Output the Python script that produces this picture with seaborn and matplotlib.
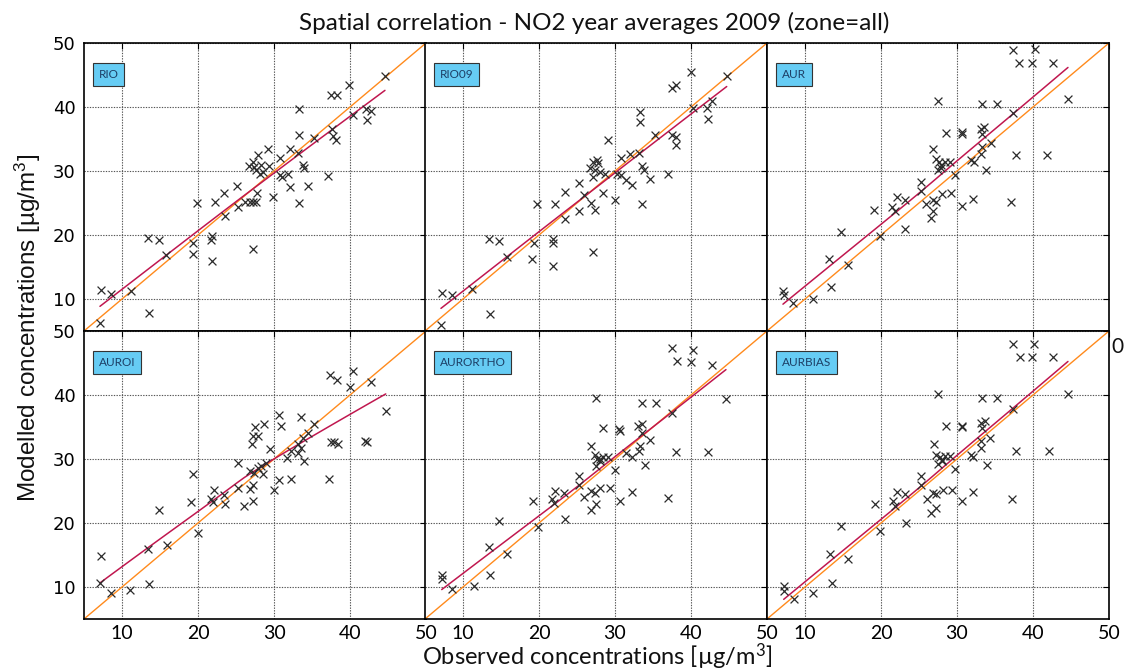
import numpy as np
import pandas as pd
import matplotlib
matplotlib.use("Agg")
import matplotlib.pyplot as plt
import seaborn as sns

# ---------------------------------------------------------------- data
models = ["RIO", "RIO09", "AUR", "AUROI", "AURORTHO", "AURBIAS"]
tick_values = [10, 20, 30, 40, 50]
axis_range = (5, 50)

rio_obs = [44.6, 39.9, 37.5, 38.3, 33.3, 40.4, 42.1, 42.7, 42.3, 33.3, 35.3, 37.6, 37.8, 38.2,
           32.1, 33.2, 29.2, 27.9, 30.8, 26.75, 27.2, 27.4, 27.6, 28.1, 28.5, 28.3, 29.4, 30.8,
           31.1, 31.8, 33.8, 33.9, 37.1, 32.1, 34.5, 29.9, 33.3, 25.1, 23.4, 22.3, 19.9, 25.2,
           26.2, 26.9, 27.2, 27.6, 27.8, 23.5, 19.3, 19.4, 21.7, 21.9, 21.9, 27.3, 13.4, 14.9,
           15.8, 7.3, 8.6, 11.2, 13.6, 7.1]
rio_mod = [44.9, 43.5, 41.8, 41.9, 39.7, 38.7, 39.7, 39.3, 38.0, 35.7, 35.2, 36.5, 35.5, 34.8,
           33.4, 32.8, 33.4, 32.5, 32.1, 30.8, 31.4, 30.7, 30.1, 29.6, 29.9, 30.9, 30.8, 29.4,
           29.1, 29.6, 30.9, 30.4, 29.2, 27.5, 27.7, 26.0, 25.0, 27.7, 26.5, 25.2, 25.0, 24.4,
           25.1, 25.2, 25.1, 25.1, 26.6, 22.9, 18.7, 17.0, 19.2, 19.8, 16.0, 17.8, 19.5, 19.2,
           16.9, 11.4, 10.8, 11.2, 7.8, 6.3]

rio09_obs = [44.7, 40.0, 37.5, 38.0, 40.2, 42.1, 42.8, 42.3, 33.3, 33.3, 35.3, 37.5, 38.0, 38.0,
             29.1, 30.8, 32.0, 33.2, 27.1, 27.6, 27.8, 27.4, 28.0, 28.7, 26.7, 27.1, 30.2, 30.8,
             31.5, 32.2, 33.6, 33.8, 34.6, 37.0, 33.6, 30.0, 25.3, 23.4, 25.9, 26.8, 27.4, 28.4,
             25.2, 19.7, 22.1, 23.4, 19.3, 19.1, 21.8, 21.9, 21.9, 27.1, 13.4, 14.8, 15.8, 7.3,
             8.6, 11.2, 13.5, 7.1]
rio09_mod = [44.8, 45.4, 43.0, 43.4, 39.9, 39.9, 40.9, 38.2, 39.2, 37.7, 35.6, 35.7, 35.3, 34.0,
             34.8, 32.0, 32.7, 32.8, 31.4, 31.7, 31.2, 30.1, 29.9, 29.6, 30.4, 29.1, 29.6, 29.4,
             28.6, 27.8, 30.8, 30.1, 28.8, 29.5, 24.8, 25.5, 28.1, 26.7, 26.2, 25.0, 23.9, 26.5,
             23.7, 24.8, 24.8, 22.5, 18.7, 16.2, 19.3, 18.7, 15.2, 17.3, 19.3, 19.0, 16.6, 10.9,
             10.7, 11.6, 7.6, 5.9]

aur_obs = [37.4, 40.2, 38.2, 39.9, 42.6, 44.6, 27.5, 33.3, 35.3, 37.4, 28.6, 30.6, 30.7, 33.2,
           33.6, 33.3, 34.5, 37.7, 41.8, 33.3, 33.2, 31.9, 32.3, 33.8, 37.1, 26.9, 27.3, 27.6,
           27.9, 28.4, 29.1, 27.5, 27.9, 29.8, 30.6, 32.1, 25.2, 25.2, 28.0, 29.2, 25.9, 26.8,
           27.3, 26.8, 26.6, 22.1, 23.1, 19.1, 21.5, 21.8, 23.2, 14.7, 19.9, 13.2, 15.6, 13.4,
           7.1, 7.2, 8.4, 11.0]
aur_mod = [48.9, 49.1, 46.9, 46.9, 46.9, 41.2, 40.9, 40.4, 40.4, 39.0, 36.0, 36.1, 35.8, 36.6,
           36.9, 35.8, 34.3, 32.5, 32.5, 33.8, 32.7, 31.7, 31.4, 30.2, 25.1, 33.4, 31.8, 31.4,
           30.9, 31.4, 31.4, 30.1, 30.4, 29.3, 24.5, 25.7, 28.3, 26.8, 26.4, 26.5, 24.9, 25.5,
           25.2, 23.7, 22.6, 25.9, 25.4, 23.9, 24.4, 23.7, 21.0, 20.5, 19.8, 16.2, 15.3, 11.9,
           11.2, 10.7, 9.3, 10.0]

auroi_obs = [37.4, 38.3, 40.4, 40.0, 42.7, 44.7, 30.7, 30.9, 33.5, 35.3, 27.5, 28.7, 27.2, 27.9,
             27.1, 37.5, 37.9, 38.4, 42.0, 42.3, 34.5, 33.8, 33.1, 33.6, 33.2, 33.9, 32.2, 31.7,
             29.5, 29.0, 28.3, 27.9, 27.4, 28.5, 26.8, 25.2, 30.0, 30.7, 32.2, 37.3, 25.2, 26.8,
             27.2, 27.3, 26.1, 19.3, 19.1, 21.7, 22.1, 22.0, 23.4, 23.5, 14.9, 20.0, 13.4, 15.9,
             7.3, 7.1, 8.6, 11.1, 13.6]
auroi_mod = [43.2, 42.3, 43.7, 41.2, 42.0, 37.5, 36.8, 35.2, 36.6, 35.4, 35.0, 35.4, 33.6, 33.6,
             32.3, 32.6, 32.6, 32.4, 32.8, 32.6, 34.1, 33.3, 32.3, 31.7, 31.0, 29.7, 31.2, 30.2,
             31.6, 29.4, 28.9, 28.6, 27.8, 27.6, 28.1, 29.3, 25.1, 26.7, 26.9, 26.9, 25.5, 25.3,
             25.9, 23.4, 22.7, 27.6, 23.3, 23.8, 25.2, 23.3, 24.4, 23.0, 22.0, 18.5, 16.0, 16.5,
             14.9, 10.7, 9.0, 9.5, 10.5]

aurortho_obs = [37.5, 40.2, 38.1, 40.0, 42.8, 44.6, 27.5, 33.5, 35.4, 37.5, 28.4, 30.5, 30.7, 33.0,
                33.6, 33.5, 34.6, 38.0, 42.3, 33.3, 33.2, 31.5, 32.2, 33.9, 37.0, 26.9, 27.4, 27.6,
                28.0, 28.4, 29.1, 27.5, 28.0, 30.0, 30.7, 32.3, 25.2, 25.3, 28.0, 29.3, 25.9, 26.8,
                27.4, 27.5, 26.9, 22.1, 23.3, 19.2, 21.7, 22.0, 23.4, 14.8, 19.9, 13.4, 15.8, 13.6,
                7.3, 7.2, 8.6, 11.4]
aurortho_mod = [47.3, 47.1, 45.3, 45.1, 44.7, 39.3, 39.5, 38.8, 38.8, 37.2, 34.9, 34.7, 34.3, 35.2,
                35.4, 34.1, 33.0, 31.1, 31.1, 32.0, 31.2, 31.0, 30.3, 29.0, 23.9, 32.0, 30.7, 30.0,
                30.0, 30.3, 30.3, 28.9, 29.7, 28.3, 23.4, 24.8, 27.3, 26.0, 25.5, 25.5, 24.1, 25.0,
                24.7, 23.0, 22.1, 25.0, 24.7, 23.4, 23.7, 23.2, 20.6, 20.3, 19.3, 16.2, 15.2, 11.8,
                11.8, 11.2, 9.7, 10.2]

aurbias_obs = [37.4, 40.1, 38.3, 39.9, 42.6, 44.6, 27.5, 33.3, 35.3, 37.4, 28.5, 30.6, 30.7, 33.1,
               33.7, 33.3, 34.4, 37.8, 42.1, 33.2, 33.1, 31.8, 32.1, 33.9, 37.2, 27.0, 27.3, 27.7,
               28.0, 28.4, 29.1, 27.5, 28.0, 29.8, 30.6, 32.1, 25.2, 25.2, 28.1, 29.4, 26.0, 26.9,
               27.3, 27.3, 26.6, 22.1, 23.1, 19.2, 21.6, 21.8, 23.3, 14.8, 19.9, 13.3, 15.7, 13.6,
               7.2, 7.2, 8.6, 11.1]
aurbias_mod = [48.0, 48.0, 46.0, 46.0, 46.0, 40.2, 40.2, 39.5, 39.5, 37.8, 35.1, 35.2, 35.0, 35.6,
               36.0, 34.9, 33.3, 31.2, 31.2, 32.8, 31.7, 30.7, 30.3, 29.0, 23.8, 32.3, 30.7, 30.3,
               29.9, 30.5, 30.5, 29.2, 29.7, 28.5, 23.5, 24.8, 27.3, 25.9, 25.2, 25.2, 23.7, 24.7,
               24.5, 22.4, 21.6, 24.8, 24.6, 22.9, 23.4, 22.6, 20.0, 19.5, 18.7, 15.2, 14.3, 10.7,
               10.2, 9.4, 8.1, 9.0]

observed = [rio_obs, rio09_obs, aur_obs, auroi_obs, aurortho_obs, aurbias_obs]
modelled = [rio_mod, rio09_mod, aur_mod, auroi_mod, aurortho_mod, aurbias_mod]

frames = [pd.DataFrame({"model": m, "obs": o, "mod": v})
          for m, o, v in zip(models, observed, modelled)]
data = pd.concat(frames, ignore_index=True)


def lowess(x, y, frac=1.0, iters=1):
    """Locally weighted linear regression (tricube kernel, robust passes)."""
    x = np.asarray(x, float)
    y = np.asarray(y, float)
    order = np.argsort(x)
    x, y = x[order], y[order]
    n = len(x)
    r = min(max(int(np.ceil(frac * n)), 3), n - 1)
    fit = np.zeros(n)
    robust = np.ones(n)
    for _ in range(iters + 1):
        for i in range(n):
            d = np.abs(x - x[i])
            h = max(np.sort(d)[r], 1e-9) * 1.05
            w = np.clip(1 - (d / h) ** 3, 0, 1) ** 3 * robust
            A = np.column_stack([np.ones(n), x - x[i]])
            sw = np.sqrt(w)
            beta = np.linalg.lstsq(A * sw[:, None], y * sw, rcond=None)[0]
            fit[i] = beta[0]
        resid = y - fit
        s = np.median(np.abs(resid)) + 1e-9
        robust = np.clip(1 - (resid / (6 * s)) ** 2, 0, 1) ** 2
    return x, fit


# ---------------------------------------------------------------- style
sns.set_style("white")
plt.rcParams["font.family"] = ["Lato", "DejaVu Sans"]
plt.rcParams["mathtext.default"] = "regular"

W, H = 1124, 671
fig = plt.figure(figsize=(W / 100, H / 100), dpi=100)

col_left = [84, 425, 767]
row_top = [43, 331]
pw, ph = 342, 288

marker_color = "#2b2b2b"
diag_color = "#FF8A1C"
fit_color = "#C0174F"
box_color = "#66CCF4"

for idx, model in enumerate(models):
    r, c = divmod(idx, 3)
    rect = [col_left[c] / W, 1 - (row_top[r] + ph) / H, pw / W, ph / H]
    ax = fig.add_axes(rect)
    sub = data[data["model"] == model]

    ax.set_xlim(*axis_range)
    ax.set_ylim(*axis_range)
    ax.set_xticks(tick_values)
    ax.set_yticks(tick_values)
    ax.grid(True, color="#555555", linestyle=(0, (1.2, 1.2)), linewidth=0.8)
    ax.set_axisbelow(True)

    # identity line
    ax.axline((axis_range[0], axis_range[0]), slope=1, color=diag_color, lw=1.0, zorder=2)

    # smoothed relation between observed and modelled values
    sx, sy = lowess(sub["obs"], sub["mod"])
    sns.lineplot(x=sx, y=sy, ax=ax, color=fit_color, lw=1.1, estimator=None,
                 sort=False, zorder=3)

    sns.scatterplot(data=sub, x="obs", y="mod", ax=ax, marker="x", color=marker_color,
                    s=32, linewidth=0.9, zorder=4, legend=False)

    ax.set_xlabel("")
    ax.set_ylabel("")
    ax.tick_params(direction="in", top=True, right=True, length=4, width=0.8,
                   colors="black", pad=6)
    ax.tick_params(axis="x", labelbottom=(r == 1), labelsize=14, pad=4)
    ax.tick_params(axis="y", labelleft=(c == 0), labelsize=13)
    for lab in ax.get_yticklabels():
        lab.set_family("DejaVu Sans")
    for sp in ax.spines.values():
        sp.set_color("black")
        sp.set_linewidth(1.2)

    ax.text(0.043, 0.892, model, transform=ax.transAxes, fontsize=8.5,
            color="#1d3f66", va="center", ha="left", zorder=6,
            bbox=dict(boxstyle="square,pad=0.5", facecolor=box_color,
                      edgecolor="#333333", linewidth=0.8))

fig.text(594 / W, 1 - 23 / H, "Spatial correlation - NO2 year averages 2009 (zone=all)",
         ha="center", va="center", fontsize=17.5, color="#111111")
fig.text(597 / W, 1 - 657 / H, "Observed concentrations [µg/m$^{3}$]",
         ha="center", va="center", fontsize=17, color="#111111")
fig.text(28 / W, 1 - 328 / H, "Modelled concentrations [µg/m$^{3}$]",
         ha="center", va="center", rotation=90, fontsize=17.5,
         family=["Liberation Sans", "DejaVu Sans"], color="#111111")
fig.text(1117 / W, 1 - 347 / H, "0", ha="center", va="center", fontsize=15, color="#111111")

fig.savefig("out.png", dpi=100)
